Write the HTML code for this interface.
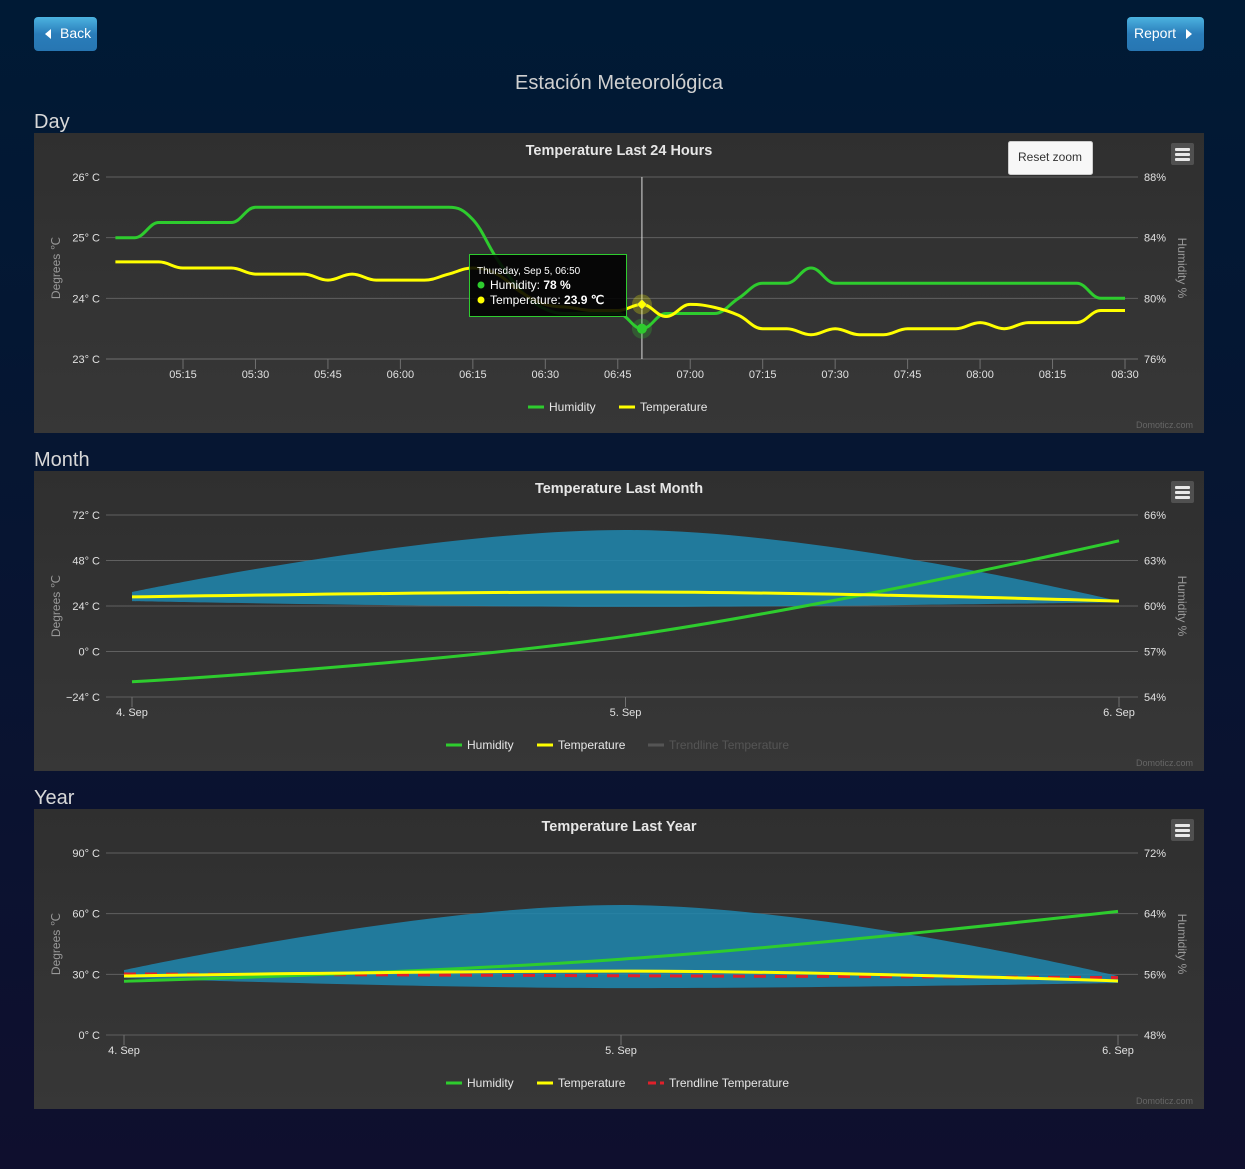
<!DOCTYPE html>
<html><head><meta charset="utf-8">
<style>
html,body{margin:0;padding:0;}
body{width:1245px;height:1169px;overflow:hidden;background:linear-gradient(#001a35,#0f0f2e);font-family:"Liberation Sans",sans-serif;position:relative;}
.btn{position:absolute;top:17px;height:34px;border-radius:4px;background:linear-gradient(#4cb3e0,#2a7dba 50%,#2776b2);color:#fff;font-size:14px;font-weight:normal;line-height:33px;box-sizing:border-box;}
.h{position:absolute;left:34px;color:#d8d8d8;font-size:20px;}
.panel{position:absolute;left:34px;width:1170px;height:300px;background:linear-gradient(#2f2f2f,#373737);}
svg{position:absolute;left:0;top:0;}
text{font-family:"Liberation Sans",sans-serif;}
</style></head><body>
<div class="btn" style="left:34px;width:63px;padding-left:26px;">Back<span style="position:absolute;left:11px;top:12px;border-right:6px solid #fff;border-top:5px solid transparent;border-bottom:5px solid transparent;"></span></div>
<div class="btn" style="left:1127px;width:77px;padding-left:7px;">Report<span style="position:absolute;left:59px;top:12px;border-left:6px solid #fff;border-top:5px solid transparent;border-bottom:5px solid transparent;"></span></div>
<div style="position:absolute;left:0;width:1238px;top:72px;text-align:center;color:#d0d0d0;font-size:20px;">Estación Meteorológica</div>
<div class="h" style="top:111px;">Day</div>
<div class="h" style="top:449px;">Month</div>
<div class="h" style="top:787px;">Year</div>
<div class="panel" style="top:133px;"></div>
<div class="panel" style="top:471px;"></div>
<div class="panel" style="top:809px;"></div>
<svg id="s" width="1245" height="1169"></svg>
<script>
// ---- Day chart data ----
const dayTimes=[301,305,310,315,320,325,330,335,340,345,350,355,360,365,370,375,380,385,390,395,400,405,410,415,420,425,430,435,440,445,450,455,460,465,470,475,480,485,490,495,500,505,510];
const dayHumidity=[84,84,85,85,85,85,86,86,86,86,86,86,86,86,86,85.2,82.6,80.5,79.3,79,79,79,78,79,79,79,80,81,81,82,81,81,81,81,81,81,81,81,81,81,81,80,80];
const dayTemperature=[24.6,24.6,24.6,24.5,24.5,24.5,24.4,24.4,24.4,24.3,24.4,24.3,24.3,24.3,24.4,24.5,24.4,24.1,23.9,23.85,23.8,23.8,23.9,23.7,23.9,23.85,23.72,23.5,23.5,23.4,23.5,23.4,23.4,23.5,23.5,23.5,23.6,23.5,23.6,23.6,23.6,23.8,23.8];
const dayTicks=[315,330,345,360,375,390,405,420,435,450,465,480,495,510];
const dayLeftTicks=[23,24,25,26];
const dayRightTicks=[76,80,84,88];
// ---- Month chart data ----
const monthCats=["4. Sep","5. Sep","6. Sep"];
const monthHumidity=[55.0,58.0,64.3];
const monthTemperature=[28.8,31.4,26.6];
const monthRangeHigh=[31.4,64.1,26.6];
const monthRangeLow=[26.6,23.5,26.0];
const monthLeftTicks=[-24,0,24,48,72];
const monthRightTicks=[54,57,60,63,66];
// ---- Year chart data ----
const yearCats=["4. Sep","5. Sep","6. Sep"];
const yearHumidity=[55.1,58.0,64.3];
const yearTemperature=[29.2,31.6,26.7];
const yearRangeHigh=[32.1,64.3,29.2];
const yearRangeLow=[28.2,23.2,25.7];
const yearTrend=[30.2,28.4];
const yearLeftTicks=[0,30,60,90];
const yearRightTicks=[48,56,64,72];

const S=document.getElementById('s');
const NS='http://www.w3.org/2000/svg';
function el(tag,attrs,parent){const e=document.createElementNS(NS,tag);for(const k in attrs)e.setAttribute(k,attrs[k]);(parent||S).appendChild(e);return e;}
function txt(x,y,s,attrs){const t=el('text',Object.assign({x:x,y:y},attrs||{}));t.textContent=s;return t;}
function lin(d0,d1,r0,r1){return v=>r0+(v-d0)*(r1-r0)/(d1-d0);}
function spline(pts){
  const n=pts.length;const L=[],R=[];const sm=1.5,d=sm+1;
  for(let i=0;i<n;i++){
    const [x,y]=pts[i];
    if(i==0||i==n-1){L[i]=[x,y];R[i]=[x,y];continue;}
    const [lx,ly]=pts[i-1],[nx,ny]=pts[i+1];
    let lcx=(sm*x+lx)/d,lcy=(sm*y+ly)/d,rcx=(sm*x+nx)/d,rcy=(sm*y+ny)/d;
    if(rcx!==lcx){const c=((rcy-lcy)*(rcx-x))/(rcx-lcx)+y-rcy;lcy+=c;rcy+=c;}
    if(lcy>ly&&lcy>y){lcy=Math.max(ly,y);rcy=2*y-lcy;}else if(lcy<ly&&lcy<y){lcy=Math.min(ly,y);rcy=2*y-lcy;}
    if(rcy>ny&&rcy>y){rcy=Math.max(ny,y);lcy=2*y-rcy;}else if(rcy<ny&&rcy<y){rcy=Math.min(ny,y);lcy=2*y-rcy;}
    L[i]=[lcx,lcy];R[i]=[rcx,rcy];
  }
  let p='M'+pts[0][0].toFixed(1)+' '+pts[0][1].toFixed(1);
  for(let i=1;i<n;i++)p+=' C'+R[i-1][0].toFixed(1)+' '+R[i-1][1].toFixed(1)+' '+L[i][0].toFixed(1)+' '+L[i][1].toFixed(1)+' '+pts[i][0].toFixed(1)+' '+pts[i][1].toFixed(1);
  return p;
}
function frame(o){
  const g=o.top;
  const t=txt(619,g+22,o.title,{'text-anchor':'middle','font-size':14.5,'font-weight':'bold',fill:'#e6e6e6'});
  
  
  const m=el('rect',{x:1171,y:g+10,width:23,height:22,rx:2,fill:'#505050'});
  
  
  for(let k=0;k<3;k++)el('rect',{x:1175,y:g+15+k*5,width:15,height:3,rx:1,fill:'#e8e8e8'});
  o.leftTicks.forEach(v=>{const y=o.yl(v);
    el('line',{x1:106,x2:1138,y1:y,y2:y,stroke:'#606060','stroke-width':1});
    const lt=txt(100,y+4,(v<0?'\u2212'+(-v):v)+'° C',{'text-anchor':'end','font-size':11,fill:'#e0e0e0'});
    
    });
  o.rightTicks.forEach(v=>{const y=o.yr(v);
    const rt=txt(1144,y+4,v+'%',{'font-size':11,fill:'#e0e0e0'});
    
    });
  const yt=txt(0,0,'Degrees ℃',{'font-size':12,fill:'#999',transform:'translate(60,'+(g+135)+') rotate(-90)','text-anchor':'middle'});
  
  
  const rt2=txt(0,0,'Humidity %',{'font-size':12,fill:'#999',transform:'translate(1178,'+(g+135)+') rotate(90)','text-anchor':'middle'});
  
  
  const cr=txt(1193,g+295,'Domoticz.com',{'text-anchor':'end','font-size':9,fill:'#666'});
  
  
  o.legend.forEach(L=>{
    const ly=g+274;
    el('line',{x1:L.x,x2:L.x+16,y1:ly,y2:ly,stroke:L.c,'stroke-width':3,'stroke-dasharray':L.dash||'none'});
    const lt=txt(L.x+21,ly+4,L.t,{'font-size':12,fill:L.tc||'#e6e6e6'});
    
    
  });
}
(function(){
  const top=133;
  const x=lin(315,510,183,1125);
  const yl=lin(23,26,359,177), yr=lin(76,88,359,177);
  frame({top:top,title:'Temperature Last 24 Hours',leftTicks:dayLeftTicks,rightTicks:dayRightTicks,yl:yl,yr:yr,
    legend:[{x:528,c:'#2ecc2e',t:'Humidity'},{x:619,c:'#ffff00',t:'Temperature'}]});
  el('line',{x1:106,x2:1138,y1:359,y2:359,stroke:'#707070'});
  dayTicks.forEach(t=>{const X=x(t);
    el('line',{x1:X,x2:X,y1:359,y2:369,stroke:'#707070'});
    const h=Math.floor(t/60),m=t%60;
    const lb=txt(X,378,String(h).padStart(2,'0')+':'+String(m).padStart(2,'0'),{'text-anchor':'middle','font-size':11,fill:'#e0e0e0'});
    
    
  });
  const hi=dayTimes.indexOf(410);
  el('line',{x1:x(410),x2:x(410),y1:177,y2:359,stroke:'#ddd','stroke-width':1});
  const hp=el('path',{d:spline(dayTimes.map((t,i)=>[x(t),yr(dayHumidity[i])])),fill:'none',stroke:'#2ecc2e','stroke-width':3});
  
  
  const tp=el('path',{d:spline(dayTimes.map((t,i)=>[x(t),yl(dayTemperature[i])])),fill:'none',stroke:'#ffff00','stroke-width':3});
  
  
  const hx=x(dayTimes[hi]),hy=yr(dayHumidity[hi]),ty=yl(dayTemperature[hi]);
  el('circle',{cx:hx,cy:hy,r:10,fill:'rgba(46,204,46,0.25)'});
  el('circle',{cx:hx,cy:hy,r:5,fill:'#2ecc2e'});
  el('circle',{cx:hx,cy:ty,r:10,fill:'rgba(255,255,0,0.25)'});
  el('path',{d:'M'+hx+' '+(ty-5)+' l5 5 l-5 5 l-5 -5z',fill:'#ffff00',stroke:'#888','stroke-width':0.5});
  const tg=el('g',{});
  
  
  el('rect',{x:469.5,y:254.5,width:157,height:62,fill:'rgba(0,0,0,0.88)',stroke:'#2ecc2e','stroke-width':1},tg);
  txt(477,274,'Thursday, Sep 5, 06:50',{'font-size':10,fill:'#fff'});
  el('circle',{cx:481,cy:285,r:3.5,fill:'#2ecc2e'});
  const a=txt(490,289,'Humidity: ',{'font-size':12,fill:'#fff'});
  const b=el('tspan',{'font-weight':'bold'},a);b.textContent=dayHumidity[hi]+' %';
  el('circle',{cx:481,cy:300,r:3.5,fill:'#ffff00'});
  const c=txt(490,304,'Temperature: ',{'font-size':12,fill:'#fff'});
  const d=el('tspan',{'font-weight':'bold'},c);d.textContent=dayTemperature[hi]+' ℃';
  const rz=el('rect',{x:1008.5,y:141.5,width:84,height:33,rx:2,fill:'#f7f7f7',stroke:'#ccc'});
  
  
  txt(1050,161,'Reset zoom',{'text-anchor':'middle','font-size':12,fill:'#333'});
})();
function catChart(top,title,cats,xs,lt,rt,lD,rD,hum,tem,hi,lo,trend){
  const x=lin(0,2,xs[0],xs[1]);
  const yl=lin(lD[0],lD[1],top+226,top+44), yr=lin(rD[0],rD[1],top+226,top+44);
  frame({top:top,title:title,leftTicks:lt,rightTicks:rt,yl:yl,yr:yr,
    legend:[{x:446,c:'#2ecc2e',t:'Humidity'},{x:537,c:'#ffff00',t:'Temperature'},
      trend?{x:648,c:'#e0202a',t:'Trendline Temperature',dash:'8,4'}:{x:648,c:'#555',t:'Trendline Temperature',tc:'#555'}]});
  cats.forEach((c,i)=>{const X=x(i);
    el('line',{x1:X,x2:X,y1:top+226,y2:top+236,stroke:'#707070'});
    const lb=txt(X,top+245,c,{'text-anchor':'middle','font-size':11,fill:'#e0e0e0'});
    
    });
  const up=cats.map((c,i)=>[x(i),yl(hi[i])]);
  const dn=cats.map((c,i)=>[x(i),yl(lo[i])]).reverse();
  const ar=el('path',{d:spline(up)+' L'+dn[0][0]+' '+dn[0][1]+spline(dn).replace(/^M[^C]*/,' ')+'Z',fill:'rgba(31,135,175,0.85)'});
  
  
  if(trend){
    const tl=el('line',{x1:x(0),y1:yl(trend[0]),x2:x(2),y2:yl(trend[1]),stroke:'#e0202a','stroke-width':3,'stroke-dasharray':'12,9'});
    
    
  }
  const hp=el('path',{d:spline(cats.map((c,i)=>[x(i),yr(hum[i])])),fill:'none',stroke:'#2ecc2e','stroke-width':3});
  
  
  const tp=el('path',{d:spline(cats.map((c,i)=>[x(i),yl(tem[i])])),fill:'none',stroke:'#ffff00','stroke-width':3});
  
  
}
catChart(471,'Temperature Last Month',monthCats,[132,1119],monthLeftTicks,monthRightTicks,[-24,72],[54,66],monthHumidity,monthTemperature,monthRangeHigh,monthRangeLow,null);
catChart(809,'Temperature Last Year',yearCats,[124,1118],yearLeftTicks,yearRightTicks,[0,90],[48,72],yearHumidity,yearTemperature,yearRangeHigh,yearRangeLow,yearTrend);
</script>
</body></html>
